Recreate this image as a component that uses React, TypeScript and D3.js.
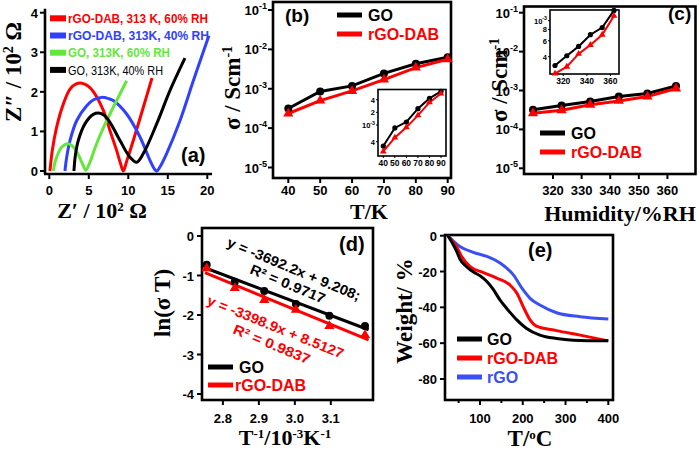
import React from "react";
import * as d3 from "d3";

// ---------------- Panel (a): Nyquist plots (Z', Z'' in 10^2 Ω) ----------------
const nyqDab60X = [0.08, 0.4, 0.93, 1.77, 2.62, 3.4, 4.1, 4.9, 5.6, 6.84, 7.68, 8.52, 9.0, 9.37, 9.8, 10.63, 11.9, 13.0];
const nyqDab60Y = [0, 0.55, 1.11, 1.69, 2.07, 2.2, 2.22, 2.15, 2.0, 1.53, 1.02, 0.52, 0.2, 0, 0.25, 0.77, 1.61, 2.35];
const nyqDab40X = [1.98, 2.2, 2.62, 3.46, 4.73, 5.6, 6.6, 7.5, 8.1, 9.79, 11.48, 12.74, 13.3, 13.6, 14.0, 14.85, 16.54, 18.23, 20.2];
const nyqDab40Y = [0, 0.35, 0.77, 1.27, 1.65, 1.8, 1.86, 1.83, 1.78, 1.44, 0.86, 0.27, 0.05, 0, 0.1, 0.44, 1.27, 2.28, 3.42];
const nyqGo60X = [0.5, 0.7, 0.93, 1.56, 2.4, 3.25, 4.09, 4.5, 4.64, 5.0, 5.99, 7.26, 8.52, 9.79];
const nyqGo60Y = [0, 0.2, 0.35, 0.6, 0.69, 0.56, 0.23, 0.05, 0.02, 0.15, 0.69, 1.27, 1.78, 2.28];
const nyqGo40X = [3.12, 3.3, 3.67, 4.51, 5.57, 6.4, 7.0, 7.68, 8.95, 10.21, 11.05, 11.9, 13.59, 15.27, 17.17];
const nyqGo40Y = [0, 0.4, 0.77, 1.19, 1.43, 1.46, 1.4, 1.23, 0.77, 0.35, 0.22, 0.44, 1.19, 2.03, 2.85];
const nyqLabels = ["rGO-DAB, 313 K, 60% RH", "rGO-DAB, 313K, 40% RH", "GO, 313K, 60% RH", "GO, 313K, 40% RH"];
const aXTicks = [0, 5, 10, 15, 20];
const aYTicks = [0, 1, 2, 3, 4];

// ---------------- Panel (b): σ vs "T/K" ----------------
const rhLevels = [40, 50, 60, 70, 80, 90];
const sigmaRhGO = [3.15e-4, 8.5e-4, 1.18e-3, 2.45e-3, 4.3e-3, 6.3e-3];
const sigmaRhDAB = [2.35e-4, 5.0e-4, 8.8e-4, 1.7e-3, 3.45e-3, 5.6e-3];
const logExps = [-1, -2, -3, -4, -5];
const bInsetYTicks = [4e-3, 2e-3, 1e-3, 4e-4];
const bInsetYLabels = ["4", "2", "10-3", "4"];

// ---------------- Panel (c): σ vs "Humidity/%RH" ----------------
const tempsK = [313, 323, 333, 343, 353, 363];
const sigmaTGO = [3.2e-4, 4.1e-4, 5.2e-4, 7.0e-4, 8.4e-4, 1.3e-3];
const sigmaTDAB = [2.6e-4, 3.1e-4, 4.3e-4, 5.4e-4, 7.0e-4, 1.13e-3];
const cXTicks = [320, 330, 340, 350, 360];
const cInsetXTicks = [320, 340, 360];
const cInsetYTicks = [1e-3, 8e-4, 6e-4, 4e-4];
const cInsetYLabels = ["10-3", "8", "6", "4"];

// ---------------- Panel (d): Arrhenius ----------------
const invT = [2.755, 2.833, 2.915, 3.003, 3.096, 3.195];
const lnSigmaTGO = [-0.73, -1.16, -1.39, -1.72, -2.02, -2.28];
const lnSigmaTDAB = [-0.82, -1.32, -1.62, -1.87, -2.28, -2.51];
const dXTicks = [2.8, 2.9, 3.0, 3.1];
const dYTicks = [0, -1, -2, -3, -4];
const eqGO = "y = -3692.2x + 9.208;";
const r2GO = "R² = 0.9717";
const eqDAB = "y = -3398.9x + 8.5127";
const r2DAB = "R² = 0.9837";

// ---------------- Panel (e): TGA ----------------
const tgaGoT = [25, 35, 45, 53, 65, 77, 90, 100, 116, 131, 147, 162, 186, 209, 240, 279, 318, 400];
const tgaGoW = [0, -4, -8.5, -13, -16.5, -19, -21, -22.4, -25.6, -30, -36, -40.5, -47, -51.8, -55.5, -57.4, -58.3, -58.7];
const tgaDabT = [25, 35, 45, 57, 77, 108, 139, 170, 186, 201, 217, 232, 279, 334, 400];
const tgaDabW = [0, -3, -6, -11.6, -17.2, -20.6, -23.7, -27.5, -32, -39.6, -47, -50.5, -53, -55.5, -58.7];
const tgaRgoT = [25, 53, 84, 116, 147, 178, 201, 217, 240, 279, 334, 400];
const tgaRgoW = [0, -6, -9.3, -11.6, -15.3, -21.9, -30.3, -35, -38.7, -43, -45.2, -46.5];
const eXTicks = [100, 200, 300, 400];
const eXMinor = [50, 150, 250, 350];
const eYTicks = [0, -20, -40, -60, -80];

const RED = "#ff0000";
const BLUE = "#3040ff";
const GREEN = "#62e83a";
const BLUE_E = "#3a50f5";
const SANS = "'Liberation Sans', Arial, sans-serif";
const SERIF = "'Liberation Serif', 'Times New Roman', serif";

const zip = (xs: number[], ys: number[]) => xs.map((x, i) => [x, ys[i]] as [number, number]);

function fit(xs: number[], ys: number[]) {
  const mx = d3.mean(xs) as number;
  const my = d3.mean(ys) as number;
  let num = 0, den = 0;
  xs.forEach((x, i) => { num += (x - mx) * (ys[i] - my); den += (x - mx) * (x - mx); });
  const slope = num / den;
  return { slope, intercept: my - slope * mx };
}

const tri = d3.symbol().type(d3.symbolTriangle);

function PowLabel({ x, y, label, size, anchor = "end" }: any) {
  if (label.startsWith("10") && label.length > 2) {
    return (
      <text x={x} y={y} textAnchor={anchor} fontFamily={SANS} fontWeight="bold" fontSize={size}>
        10<tspan dy={-size * 0.45} fontSize={size * 0.7}>{label.slice(2)}</tspan>
      </text>
    );
  }
  return (
    <text x={x} y={y} textAnchor={anchor} fontFamily={SANS} fontWeight="bold" fontSize={size}>{label}</text>
  );
}

function SigmaPanel({ frame, xs, xScale, yScale, go, dab, xTicks, tag, tagX, tagY, legX, legY, title, titleX, titleY, yTitleX, yTitleY, inset }: any) {
  const lineGO = d3.line<number>().x((_, i) => xScale(xs[i])).y((d) => yScale(d));
  return (
    <g>
      <rect x={frame.x} y={frame.y} width={frame.w} height={frame.h} fill="none" stroke="#000" strokeWidth={2.6} />
      <text transform={`translate(${yTitleX},${yTitleY}) rotate(-90)`} textAnchor="middle" fontFamily={SERIF} fontWeight="bold" fontSize={23}>
        σ / Scm<tspan dy={-8} fontSize={14}>-1</tspan>
      </text>
      {logExps.map((e) => (
        <g key={e}>
          <line x1={frame.x - 5} x2={frame.x} y1={yScale(Math.pow(10, e))} y2={yScale(Math.pow(10, e))} stroke="#000" strokeWidth={2} />
          <PowLabel x={frame.x - 6} y={yScale(Math.pow(10, e)) + 5} label={"10" + e} size={13} />
        </g>
      ))}
      {xTicks.map((t: number) => (
        <g key={t}>
          <line x1={xScale(t)} x2={xScale(t)} y1={frame.y + frame.h} y2={frame.y + frame.h + 5} stroke="#000" strokeWidth={2} />
          <text x={xScale(t)} y={195} textAnchor="middle" fontFamily={SANS} fontWeight="bold" fontSize={13}>{t}</text>
        </g>
      ))}
      <path d={lineGO(go) as string} fill="none" stroke="#000" strokeWidth={3} />
      <path d={lineGO(dab) as string} fill="none" stroke={RED} strokeWidth={3} />
      {go.map((d: number, i: number) => (
        <circle key={"g" + i} cx={xScale(xs[i])} cy={yScale(d)} r={4} fill="#000" />
      ))}
      {dab.map((d: number, i: number) => (
        <path key={"r" + i} d={tri.size(45)() as string} transform={`translate(${xScale(xs[i])},${yScale(d)})`} fill={RED} />
      ))}
      {inset}
      <line x1={legX} x2={legX + 25} y1={legY} y2={legY} stroke="#000" strokeWidth={5} />
      <text x={legX + 31} y={legY + 6} fontFamily={SANS} fontWeight="bold" fontSize={16}>GO</text>
      <line x1={legX} x2={legX + 25} y1={legY + 19} y2={legY + 19} stroke={RED} strokeWidth={5} />
      <text x={legX + 31} y={legY + 25} fontFamily={SANS} fontWeight="bold" fontSize={16} fill={RED}>rGO-DAB</text>
      <text x={tagX} y={tagY} fontFamily={SANS} fontWeight="bold" fontSize={19}>{tag}</text>
      <text x={titleX} y={titleY} textAnchor="middle" fontFamily={SERIF} fontWeight="bold" fontSize={22}>{title}</text>
    </g>
  );
}

function Inset({ frame, xs, xScale, yScale, go, dab, xTicks, yTicks, yLabels }: any) {
  const ln = d3.line<number>().x((_, i) => xScale(xs[i])).y((d) => yScale(d));
  return (
    <g>
      <rect x={frame.x} y={frame.y} width={frame.w} height={frame.h} fill="#fff" stroke="#000" strokeWidth={1.6} />
      {xTicks.map((t: number) => (
        <g key={t}>
          <line x1={xScale(t)} x2={xScale(t)} y1={frame.y + frame.h} y2={frame.y + frame.h + 2} stroke="#000" strokeWidth={1} />
          <text x={xScale(t)} y={frame.y + frame.h + 10} textAnchor="middle" fontFamily={SANS} fontWeight="bold" fontSize={8.5}>{t}</text>
        </g>
      ))}
      {yTicks.map((t: number, i: number) => (
        <g key={t}>
          <line x1={frame.x - 2} x2={frame.x} y1={yScale(t)} y2={yScale(t)} stroke="#000" strokeWidth={1} />
          <PowLabel x={frame.x - 3} y={yScale(t) + 3} label={yLabels[i]} size={7.5} />
        </g>
      ))}
      <path d={ln(go) as string} fill="none" stroke="#000" strokeWidth={2} />
      <path d={ln(dab) as string} fill="none" stroke={RED} strokeWidth={2} />
      {go.map((d: number, i: number) => (
        <circle key={"g" + i} cx={xScale(xs[i])} cy={yScale(d)} r={2.6} fill="#000" />
      ))}
      {dab.map((d: number, i: number) => (
        <path key={"r" + i} d={tri.size(20)() as string} transform={`translate(${xScale(xs[i])},${yScale(d)})`} fill={RED} />
      ))}
    </g>
  );
}

export default function App() {
  // ----- Panel (a) -----
  const xA = d3.scaleLinear().domain([0, 20]).range([49.3, 207.3]);
  const yA = d3.scaleLinear().domain([0, 4]).range([171, 12.7]);
  const lineA = d3.line<[number, number]>().x((d) => xA(d[0])).y((d) => yA(d[1])).curve(d3.curveCatmullRom.alpha(0.5));
  const aSeries = [
    { pts: zip(nyqDab60X, nyqDab60Y), color: RED },
    { pts: zip(nyqDab40X, nyqDab40Y), color: BLUE },
    { pts: zip(nyqGo60X, nyqGo60Y), color: GREEN },
    { pts: zip(nyqGo40X, nyqGo40Y), color: "#000" },
  ];
  const aLegendLen = [140, 141, 102, 95];

  // ----- Panel (b) -----
  const xB = d3.scaleLinear().domain([40, 90]).range([288.3, 447.7]);
  const yB = d3.scaleLog().domain([1e-5, 1e-1]).range([167.5, 10]);
  const xBi = d3.scaleLinear().domain([40, 90]).range([383.3, 441]);
  const yBi = d3.scaleLog().domain([1e-4, 1e-2]).range([167, 83]);

  // ----- Panel (c) -----
  const xC = d3.scaleLinear().domain([313, 363]).range([533, 676]);
  const yC = d3.scaleLog().domain([1e-5, 1e-1]).range([168.3, 12.7]);
  const xCi = d3.scaleLinear().domain([313, 363]).range([555, 614]);
  const yCi = d3.scaleLog().domain([1e-4, 1e-2]).range([20.7 + 90.5, 20.7 - 90.5]);

  // ----- Panel (d) -----
  const xD = d3.scaleLinear().domain([2.755, 3.195]).range([206.7, 365]);
  const yD = d3.scaleLinear().domain([0, -4]).range([236, 394]);
  const fGO = fit(invT, lnSigmaTGO);
  const fDAB = fit(invT, lnSigmaTDAB);
  const fitX = [2.75, 3.205];

  // ----- Panel (e) -----
  const xE = d3.scaleLinear().domain([100, 400]).range([480, 608.3]);
  const yE = d3.scaleLinear().domain([0, -80]).range([235.7, 379]);
  const lineE = d3.line<[number, number]>().x((d) => xE(d[0])).y((d) => yE(d[1])).curve(d3.curveMonotoneX);
  const eSeries = [
    { pts: zip(tgaGoT, tgaGoW), color: "#000", label: "GO" },
    { pts: zip(tgaDabT, tgaDabW), color: RED, label: "rGO-DAB" },
    { pts: zip(tgaRgoT, tgaRgoW), color: BLUE_E, label: "rGO" },
  ];

  return (
    <svg width={700} height={450} viewBox="0 0 700 450" style={{ position: "absolute", left: 0, top: 0, background: "#fff" }}>
      <rect x={0} y={0} width={700} height={450} fill="#fff" />

      {/* ================= (a) ================= */}
      <g>
        {aSeries.map((s, i) => (
          <path key={i} d={lineA(s.pts) as string} fill="none" stroke={s.color} strokeWidth={3} />
        ))}
        <line x1={45} x2={45} y1={yA(4.1)} y2={174} stroke="#000" strokeWidth={2.6} />
        <line x1={44} x2={xA(20.6)} y1={174} y2={174} stroke="#000" strokeWidth={2.6} />
        {aYTicks.map((t) => (
          <g key={t}>
            <line x1={40} x2={45} y1={yA(t)} y2={yA(t)} stroke="#000" strokeWidth={2} />
            <text x={38} y={yA(t) + 5} textAnchor="end" fontFamily={SANS} fontWeight="bold" fontSize={13}>{t}</text>
          </g>
        ))}
        {aXTicks.map((t) => (
          <g key={t}>
            <line x1={xA(t)} x2={xA(t)} y1={174} y2={179} stroke="#000" strokeWidth={2} />
            <text x={xA(t)} y={195} textAnchor="middle" fontFamily={SANS} fontWeight="bold" fontSize={13}>{t}</text>
          </g>
        ))}
        {aSeries.map((s, i) => (
          <g key={"l" + i}>
            <line x1={50} x2={66} y1={18.3 + i * 17.2} y2={18.3 + i * 17.2} stroke={s.color} strokeWidth={6} />
            <text x={68} y={23 + i * 17.2} fontFamily={SANS} fontWeight={i === 3 ? "normal" : "bold"} fontSize={13.5} fill={s.color}
              textLength={aLegendLen[i]} lengthAdjust="spacingAndGlyphs">{nyqLabels[i]}</text>
          </g>
        ))}
        <text x={181} y={162} fontFamily={SANS} fontWeight="bold" fontSize={20}>(a)</text>
        <text x={102} y={218} textAnchor="middle" fontFamily={SERIF} fontWeight="bold" fontSize={22}>
          Z′ / 10<tspan dy={-7} fontSize={13}>2</tspan><tspan dy={7}> Ω</tspan>
        </text>
        <text transform="translate(21,72) rotate(-90)" textAnchor="middle" fontFamily={SERIF} fontWeight="bold" fontSize={23}>
          Z″ / 10<tspan dy={-8} fontSize={14}>2</tspan><tspan dy={8}> Ω</tspan>
        </text>
      </g>

      {/* ================= (b) ================= */}
      <SigmaPanel
        frame={{ x: 273, y: 2, w: 178, h: 176 }}
        xs={rhLevels} xScale={xB} yScale={yB} go={sigmaRhGO} dab={sigmaRhDAB} xTicks={rhLevels}
        tag="(b)" tagX={285} tagY={22} legX={337} legY={15}
        title="T/K" titleX={369} titleY={219} yTitleX={240} yTitleY={88}
        inset={<Inset frame={{ x: 378, y: 89.5, w: 68, h: 66.5 }} xs={rhLevels} xScale={xBi} yScale={yBi}
          go={sigmaRhGO} dab={sigmaRhDAB} xTicks={rhLevels} yTicks={bInsetYTicks} yLabels={bInsetYLabels} />}
      />

      {/* ================= (c) ================= */}
      <SigmaPanel
        frame={{ x: 524, y: 6.5, w: 171.5, h: 167.5 }}
        xs={tempsK} xScale={xC} yScale={yC} go={sigmaTGO} dab={sigmaTDAB} xTicks={cXTicks}
        tag="(c)" tagX={668} tagY={20} legX={540} legY={133}
        title="Humidity/%RH" titleX={620} titleY={221} yTitleX={507} yTitleY={80}
        inset={<Inset frame={{ x: 550, y: 10, w: 69, h: 64 }} xs={tempsK} xScale={xCi} yScale={yCi}
          go={sigmaTGO} dab={sigmaTDAB} xTicks={cInsetXTicks} yTicks={cInsetYTicks} yLabels={cInsetYLabels} />}
      />

      {/* ================= (d) ================= */}
      <g>
        <rect x={202} y={228} width={171} height={172} fill="none" stroke="#000" strokeWidth={2.6} />
        {dYTicks.map((t) => (
          <g key={t}>
            <line x1={197} x2={202} y1={yD(t)} y2={yD(t)} stroke="#000" strokeWidth={2} />
            <text x={194} y={yD(t) + 5} textAnchor="end" fontFamily={SANS} fontWeight="bold" fontSize={13}>{t}</text>
          </g>
        ))}
        {dXTicks.map((t) => (
          <g key={t}>
            <line x1={xD(t)} x2={xD(t)} y1={400} y2={405} stroke="#000" strokeWidth={2} />
            <text x={xD(t)} y={423} textAnchor="middle" fontFamily={SANS} fontWeight="bold" fontSize={13}>{t.toFixed(1)}</text>
          </g>
        ))}
        <line x1={xD(fitX[0])} x2={xD(fitX[1])} y1={yD(fGO.slope * fitX[0] + fGO.intercept)} y2={yD(fGO.slope * fitX[1] + fGO.intercept)} stroke="#000" strokeWidth={3} />
        <line x1={xD(fitX[0])} x2={xD(fitX[1])} y1={yD(fDAB.slope * fitX[0] + fDAB.intercept)} y2={yD(fDAB.slope * fitX[1] + fDAB.intercept)} stroke={RED} strokeWidth={3} />
        {lnSigmaTGO.map((d, i) => (
          <circle key={"g" + i} cx={xD(invT[i])} cy={yD(d)} r={4} fill="#000" />
        ))}
        {lnSigmaTDAB.map((d, i) => (
          <path key={"r" + i} d={tri.size(45)() as string} transform={`translate(${xD(invT[i])},${yD(d)})`} fill={RED} />
        ))}
        <text transform="translate(226,246) rotate(22.6)" fontFamily={SANS} fontWeight="bold" fontSize={14} textLength={143} lengthAdjust="spacingAndGlyphs">{eqGO}</text>
        <text transform="translate(249,273) rotate(22.6)" fontFamily={SANS} fontWeight="bold" fontSize={14} textLength={80} lengthAdjust="spacingAndGlyphs">{r2GO}</text>
        <text transform="translate(206,304) rotate(22)" fontFamily={SANS} fontWeight="bold" fontSize={14} fill={RED} textLength={146} lengthAdjust="spacingAndGlyphs">{eqDAB}</text>
        <text transform="translate(232,333) rotate(22.5)" fontFamily={SANS} fontWeight="bold" fontSize={14} fill={RED} textLength={82} lengthAdjust="spacingAndGlyphs">{r2DAB}</text>
        <text x={339} y={251} fontFamily={SANS} fontWeight="bold" fontSize={20}>(d)</text>
        <line x1={208} x2={233} y1={367} y2={367} stroke="#000" strokeWidth={5} />
        <text x={239} y={373} fontFamily={SANS} fontWeight="bold" fontSize={16}>GO</text>
        <line x1={208} x2={233} y1={385} y2={385} stroke={RED} strokeWidth={5} />
        <text x={235} y={391} fontFamily={SANS} fontWeight="bold" fontSize={16} fill={RED}>rGO-DAB</text>
        <text x={285} y={445} textAnchor="middle" fontFamily={SERIF} fontWeight="bold" fontSize={22}>
          T<tspan dy={-7} fontSize={13}>-1</tspan><tspan dy={7}>/10</tspan><tspan dy={-7} fontSize={13}>-3</tspan><tspan dy={7}>K</tspan><tspan dy={-7} fontSize={13}>-1</tspan>
        </text>
        <text transform="translate(170,303) rotate(-90)" textAnchor="middle" fontFamily={SERIF} fontWeight="bold" fontSize={23}>ln(σ T)</text>
      </g>

      {/* ================= (e) ================= */}
      <g>
        <rect x={445} y={235} width={168} height={165} fill="none" stroke="#000" strokeWidth={2.6} />
        {eYTicks.map((t) => (
          <g key={t}>
            <line x1={440} x2={445} y1={yE(t)} y2={yE(t)} stroke="#000" strokeWidth={2} />
            <text x={437} y={yE(t) + 5} textAnchor="end" fontFamily={SANS} fontWeight="bold" fontSize={13}>{t}</text>
          </g>
        ))}
        {eXTicks.map((t) => (
          <g key={t}>
            <line x1={xE(t)} x2={xE(t)} y1={400} y2={405} stroke="#000" strokeWidth={2} />
            <text x={xE(t)} y={423} textAnchor="middle" fontFamily={SANS} fontWeight="bold" fontSize={13}>{t}</text>
          </g>
        ))}
        {eXMinor.map((t) => (
          <line key={t} x1={xE(t)} x2={xE(t)} y1={400} y2={403} stroke="#000" strokeWidth={2} />
        ))}
        {eSeries.slice().reverse().map((s, i) => (
          <path key={i} d={lineE(s.pts) as string} fill="none" stroke={s.color} strokeWidth={3} />
        ))}
        {eSeries.map((s, i) => (
          <g key={"l" + i}>
            <line x1={457} x2={482} y1={339 + i * 19} y2={339 + i * 19} stroke={s.color} strokeWidth={5} />
            <text x={487} y={345 + i * 19} fontFamily={SANS} fontWeight="bold" fontSize={16} fill={s.color}>{s.label}</text>
          </g>
        ))}
        <text x={528} y={257} fontFamily={SANS} fontWeight="bold" fontSize={20}>(e)</text>
        <text x={530} y={446} textAnchor="middle" fontFamily={SERIF} fontWeight="bold" fontSize={23}>
          T/<tspan dy={-7} fontSize={13}>o</tspan><tspan dy={7}>C</tspan>
        </text>
        <text transform="translate(412,311) rotate(-90)" textAnchor="middle" fontFamily={SERIF} fontWeight="bold" fontSize={23}>Weight/ %</text>
      </g>
    </svg>
  );
}
